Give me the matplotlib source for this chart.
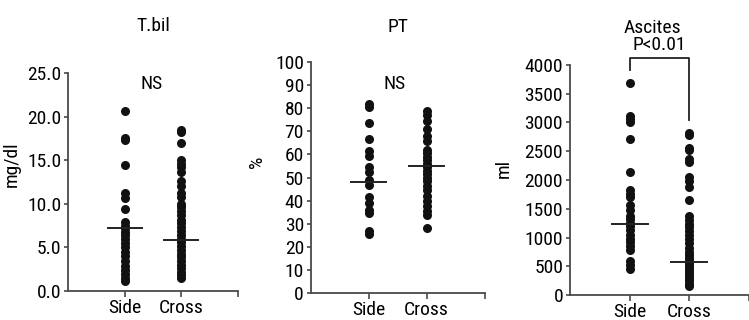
### Side vs Cross comparison: T.bil, PT, Ascites dot plots
import matplotlib
matplotlib.use('Agg')
import matplotlib.pyplot as plt
import numpy as np

plt.rcParams['font.family'] = ['Liberation Sans Narrow', 'Roboto Condensed', 'Roboto', 'DejaVu Sans']

groups = ['Side', 'Cross']

# T.bil (mg/dl)
tbil_side = [20.7, 17.6, 17.3, 14.5, 11.2, 10.7, 9.4, 7.9, 7.5, 7.2, 6.8, 6.4, 6.0,
             5.5, 5.0, 4.5, 4.0, 3.4, 2.9, 2.4, 1.9, 1.5, 1.2]
tbil_cross = [18.5, 18.2, 17.0, 15.0, 14.6, 14.2, 13.6, 12.6, 12.1, 11.3, 10.8, 10.0,
              9.6, 9.2, 8.7, 8.2, 7.8, 7.3, 6.9, 6.4, 6.0, 5.6, 5.2, 4.7, 4.3, 3.9,
              3.4, 3.0, 2.6, 2.2, 1.8, 1.5]
tbil_center = [7.2, 5.8]

# PT (%)
pt_side = [82, 80.5, 73.5, 66.5, 61.5, 59.5, 54.5, 52.5, 49, 47, 41.5, 39, 36, 34.5,
           27, 25.5]
pt_cross = [79, 77, 74.5, 71, 68, 66, 62, 60.5, 59, 57.5, 56, 54.5, 53, 51.5, 50,
            48.5, 46.5, 44.5, 42, 40, 37.5, 35.5, 34, 28]
pt_center = [48, 55]

# Ascites (ml)
asc_side = [3680, 3120, 3060, 3000, 2720, 2140, 1820, 1750, 1700, 1560, 1480, 1380,
            1320, 1250, 1200, 1130, 1050, 980, 920, 850, 780, 600, 520, 460]
asc_cross = [2810, 2780, 2560, 2530, 2360, 2320, 2060, 1980, 1880, 1660, 1380, 1300,
             1240, 1180, 1120, 1050, 980, 900, 820, 740, 700, 650, 600, 560, 520, 480,
             440, 400, 360, 320, 280, 240, 200, 160]
asc_center = [1230, 580]

fig = plt.figure(figsize=(7.49, 3.20), dpi=100)

# axes boxes in figure fraction (left, bottom, width, height)
ax1 = fig.add_axes([0.0908, 0.0906, 0.227, 0.681])
ax2 = fig.add_axes([0.415, 0.084, 0.232, 0.722])
ax3 = fig.add_axes([0.761, 0.078, 0.239, 0.719])

spine_c = '#4a4a4a'
fs = 14


def dot_panel(ax, side, cross, center, ymax, ystep, fmt, ylabel, title, title_pad,
              xmax=3.0):
    ax.plot(np.full(len(side), 1), side, 'o', color='#111111', ms=6.5, mew=0, clip_on=False)
    ax.plot(np.full(len(cross), 2), cross, 'o', color='#111111', ms=6.5, mew=0, clip_on=False)
    for i, c in enumerate(center):
        ax.plot([i + 1 - 0.3, i + 1 + 0.3], [c, c], color='#222222', lw=1.4)
    ax.set_xlim(0, xmax)
    ax.set_ylim(0, ymax)
    ax.set_xticks([1, 2, 3])
    ax.set_xticklabels(groups + [''])
    yt = np.arange(0, ymax + ystep / 2, ystep)
    ax.set_yticks(yt)
    ax.set_yticklabels([fmt.format(v) for v in yt])
    for s in ['top', 'right']:
        ax.spines[s].set_visible(False)
    for s in ['left', 'bottom']:
        ax.spines[s].set_color(spine_c)
        ax.spines[s].set_linewidth(1.3)
    ax.tick_params(axis='y', length=3, width=1.2, color=spine_c, pad=2, labelsize=fs)
    ax.tick_params(axis='x', length=4, width=1.2, color=spine_c, pad=2, labelsize=fs)
    ax.set_ylabel(ylabel, fontsize=fs)
    ax.set_title(title, fontsize=fs, pad=title_pad)


dot_panel(ax1, tbil_side, tbil_cross, tbil_center, 25, 5, '{:.1f}', 'mg/dl', 'T.bil', 30)
dot_panel(ax2, pt_side, pt_cross, pt_center, 100, 10, '{:.0f}', '%', 'PT', 22)
dot_panel(ax3, asc_side, asc_cross, asc_center, 4000, 500, '{:.0f}', 'ml', 'Ascites', 23,
          xmax=2.95)

ax1.yaxis.set_label_coords(-0.28, 0.58)
ax2.yaxis.set_label_coords(-0.26, 0.57)
ax3.yaxis.set_label_coords(-0.32, 0.55)
ax3.title.set_x(0.46)

# significance annotations
ax1.text(1.47, 23.8, 'NS', ha='center', va='center', fontsize=fs)
ax2.text(1.45, 90.3, 'NS', ha='center', va='center', fontsize=fs)

ax3.plot([1, 1, 2, 2], [3910, 4120, 4120, 3040], color='#222222', lw=1.3, clip_on=False)
ax3.text(1.5, 4350, 'P<0.01', ha='center', va='center', fontsize=fs)

plt.savefig('out.png', dpi=100)
